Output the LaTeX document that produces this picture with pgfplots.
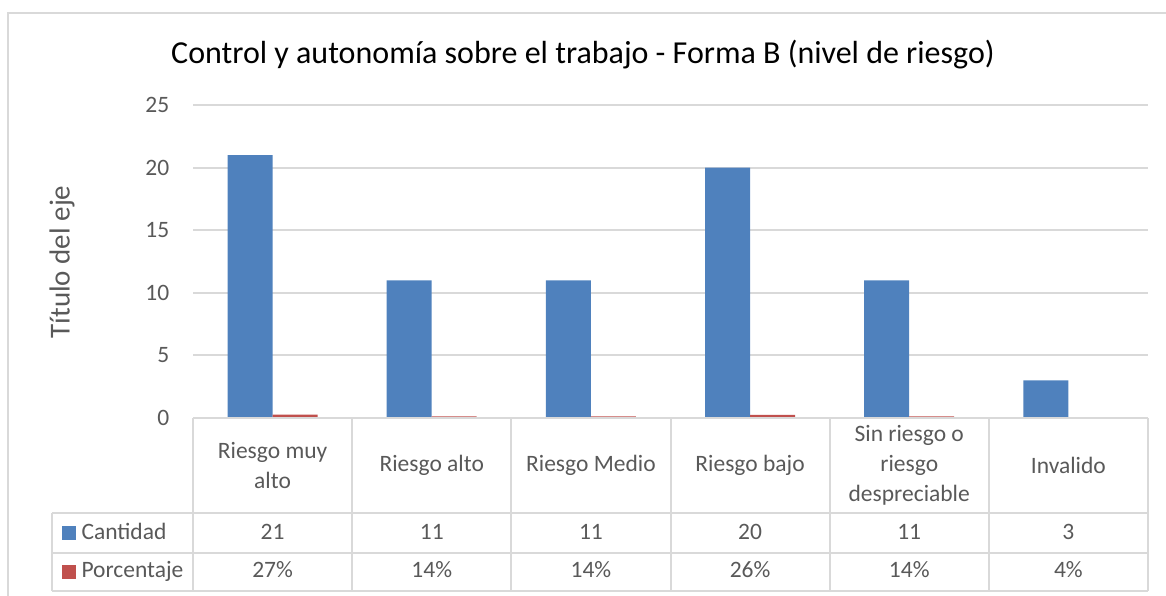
\documentclass[border=0pt]{standalone}
\usepackage{fontspec}
\setmainfont{Carlito}
\usepackage{pgfplots}
\usepackage{pgfplotstable}
\pgfplotsset{compat=1.18}
\definecolor{barblue}{HTML}{4F81BD}
\definecolor{barred}{HTML}{C0504D}
\definecolor{gridgray}{HTML}{D9D9D9}
\definecolor{txtgray}{HTML}{595959}

% x = categoria, cant = cantidad, pct = porcentaje
\pgfplotstableread{
x cant pct
1 21 27
2 11 14
3 11 14
4 20 26
5 11 14
6 3 4
}\datos

\begin{document}
\begin{tikzpicture}[font=\fontsize{9.4}{12}\selectfont]
\useasboundingbox (0pt,0pt) rectangle (466.4pt,-238.4pt);
% marco exterior (recortado)
\draw[gridgray, line width=0.8pt] (3.2pt,-240pt) -- (3.2pt,-5.2pt) -- (470pt,-5.2pt);

\node[font=\fontsize{12.8}{15}\selectfont] at (233.2pt,-22pt)
  {Control y autonomía sobre el trabajo - Forma B (nivel de riesgo)};
\node[rotate=90, txtgray, font=\fontsize{11.6}{14}\selectfont] at (24.8pt,-104.8pt) {Título del eje};

\begin{axis}[
  at={(77.2pt,-167.2pt)}, anchor=south west,
  scale only axis, width=382pt, height=125.2pt,
  xmin=0.5, xmax=6.5, ymin=0, ymax=25,
  ytick={0,5,...,25},
  xtick={1,...,6},
  xticklabels={Riesgo muy\\alto, Riesgo alto, Riesgo Medio, Riesgo bajo,
               Sin riesgo o\\riesgo\\despreciable, Invalido},
  axis line style={draw=none},
  major tick length=0pt,
  ymajorgrids, grid style={gridgray, line width=0.8pt},
  clip=false,
  ticklabel style={txtgray, font=\fontsize{9.4}{12}\selectfont},
  /pgf/number format/assume math mode=true,
  xticklabel style={anchor=center, yshift=-19pt, align=center},
  yticklabel style={xshift=-6pt},
]
\addplot[ybar, bar width=18pt, bar shift=-9pt, fill=barblue, draw=none]
  table[x=x, y=cant]{\datos};
\addplot[ybar, bar width=18pt, bar shift=9pt, fill=barred, draw=none]
  table[x=x, y expr=\thisrow{pct}/100]{\datos};
% filas de la tabla de datos
\addplot[draw=none, nodes near coords, point meta=explicit symbolic,
  nodes near coords style={anchor=base, yshift=-48.4pt, txtgray, inner sep=0pt}]
  table[x=x, y expr=0, meta=cant]{\datos};
\addplot[draw=none, nodes near coords={\pgfplotspointmeta\%}, point meta=explicit symbolic,
  nodes near coords style={anchor=base, yshift=-63.6pt, txtgray, inner sep=0pt}]
  table[x=x, y expr=0, meta=pct]{\datos};
\end{axis}

% lineas de la tabla
\begin{scope}[gridgray, line width=0.8pt]
\draw (77.2pt,-167.2pt) -- (459.2pt,-167.2pt);
\draw (20.8pt,-205.2pt) -- (459.2pt,-205.2pt);
\draw (20.8pt,-221.2pt) -- (459.2pt,-221.2pt);
\draw (20.8pt,-236.4pt) -- (459.2pt,-236.4pt);
\draw (20.8pt,-205.2pt) -- (20.8pt,-236.4pt);
\foreach \k in {0,...,6}
  \draw ({77.2pt+63.667pt*\k},-167.2pt) -- ({77.2pt+63.667pt*\k},-236.4pt);
\end{scope}

% leyenda dentro de la tabla
\fill[barblue] (24.8pt,-210.4pt) rectangle (30.4pt,-216pt);
\fill[barred] (24.8pt,-226pt) rectangle (30.4pt,-231.6pt);
\node[anchor=base west, inner sep=0pt, txtgray] at (32.4pt,-215.6pt) {Cantidad};
\node[anchor=base west, inner sep=0pt, txtgray] at (32.4pt,-230.8pt) {Porcentaje};
\end{tikzpicture}
\end{document}
